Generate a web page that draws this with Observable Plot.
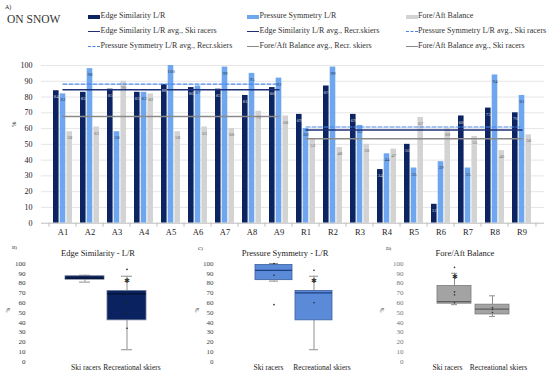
<!DOCTYPE html>
<html><head><meta charset="utf-8">
<script src="https://cdn.jsdelivr.net/npm/d3@7"></script>
<script src="https://cdn.jsdelivr.net/npm/@observablehq/plot@0.6"></script>
<style>
body{margin:0;background:#fff;}
#root{position:relative;width:550px;height:376px;overflow:hidden;font-family:"Liberation Serif","Times New Roman","DejaVu Serif",serif;color:#222;}
.abs{position:absolute;white-space:nowrap;line-height:1;}
.ctr{transform:translateX(-50%);}
.plot{position:absolute;}
</style></head><body><div id="root"></div>
<script>
// ---------- data ----------
const categories = ["A1","A2","A3","A4","A5","A6","A7","A8","A9","R1","R2","R3","R4","R5","R6","R7","R8","R9"];
const edgeSimilarity   = [84,83,85,83,88,86,85,81,86,69,87,69,34,50,12,68,73,70];
const pressureSymmetry = [82,98,58,83,100,87,99,95,92,60,99,62,44,35,39,35,94,81];
const foreAftBalance   = [58,61,90,82,58,61,60,71,68,53,48,50,47,67,60,55,46,56];
const groupSpans = [["A1","A9"],["R1","R9"]];   // ski racers, recreational skiers
const edgeAvg = [84.6, 59.1];
const pressureAvg = [88.2, 61.0];
const foreAftAvg = [67.7, 53.6];
const yTicks = [0,10,20,30,40,50,60,70,80,90,100];
const boxGroups = ["Ski racers","Recreational skiers"];
// [low whisker, Q1, median, Q3, high whisker]
const edgeBox     = [[81,83.5,85,87,88],[12,42,69,72,87]];
const pressureBox = [[82,83,93,98.5,100],[12,42,70,72,87]];
const foreAftBox  = [[58,59,61,77,90],[46,48,53.5,58,67]];
// individual markers [group index, value]
const edgePoints     = [[0,85],[1,34],[1,50],[1,60],[1,69],[1,94]];
const pressurePoints = [[0,88],[0,58],[0,100],[1,60],[1,93]];
const foreAftPoints  = [[0,60],[0,68],[0,71],[0,96],[1,50],[1,53],[1,55]];
const edgeSig = [[1,82]], pressureSig = [[1,82]], foreAftSig = [[0,86]];

// ---------- page ----------
const FONT = '"Liberation Serif","Times New Roman","DejaVu Serif",serif';
const root = document.getElementById("root");
function label(txt, x, y, size, extra="", cls="abs"){
  const d = document.createElement("div");
  d.className = cls; d.textContent = txt;
  d.style.cssText = `left:${x}px;top:${y}px;font-size:${size}px;${extra}`;
  root.appendChild(d); return d;
}
function place(svg, left, top){ svg.classList.add("plot"); svg.style.left = left+"px"; svg.style.top = top+"px"; root.appendChild(svg); }

label("A)", 5, 4, 6);
label("ON SNOW", 7, 14, 11.5, "color:#333;");

const NAVY = "#0d2462", LBLUE = "#6ea6ef", LGRAY = "#d3d3d3";
const legendItems = [
  ["Edge Similarity L/R","bar",NAVY],["Pressure Symmetry L/R","bar",LBLUE],["Fore/Aft Balance","bar",LGRAY],
  ["Edge Similarity L/R avg., Ski racers","line","#1c2f78"],["Edge Similarity L/R avg., Recr.skiers","line","#1c2f78"],["Pressure Symmetry L/R avg., Ski racers","dash","#4a86e8"],
  ["Pressure Symmetry L/R avg., Recr.skiers","dash","#4a86e8"],["Fore/Aft Balance avg., Recr. skiers","line","#8a8a8a"],["Fore/Aft Balance avg., Ski racers","line","#8a8a8a"]
];
const colX = [88, 247, 405.5], rowY = [16.5, 31.5, 46.5];
legendItems.forEach(([t,kind,c],i)=>{
  const x = colX[i%3], y = rowY[Math.floor(i/3)];
  const s = document.createElement("div"); s.className="abs";
  if (kind==="bar") s.style.cssText = `left:${x}px;top:${y-2}px;width:12px;height:4px;background:${c};`;
  else if (kind==="line") s.style.cssText = `left:${x}px;top:${y-0.75}px;width:12px;height:0;border-top:1.5px solid ${c};`;
  else s.style.cssText = `left:${x}px;top:${y-0.75}px;width:12px;height:0;border-top:1.5px dashed ${c};`;
  root.appendChild(s);
  label(t, x+12.5, y-4.5, 8, "color:#333;");
});

// ---------- top chart ----------
const rows = categories.map((c,i)=>({cat:c, edge:edgeSimilarity[i], pressure:pressureSymmetry[i], fore:foreAftBalance[i]}));
const avgRows = [];
groupSpans.forEach((span,g)=>span.forEach(c=>avgRows.push({cat:c, g, edge:edgeAvg[g], pressure:pressureAvg[g], fore:foreAftAvg[g]})));
const mL = 41, mR = 6, W = 550;
const step = (W-mL-mR)/categories.length;
const bw = step*0.72, third = bw/3;

const topChart = Plot.plot({
  width: W, height: 190, marginTop: 10, marginBottom: 22.3, marginLeft: mL, marginRight: mR,
  style: {fontFamily: FONT, background: "transparent", color: "#333", overflow: "visible"},
  x: {domain: categories, paddingInner: 0.28, paddingOuter: 0.14},
  y: {domain: [0,100]},
  marks: [
    Plot.ruleY(yTicks.slice(1), {stroke: "#e6e6e6"}),
    Plot.barY(rows, {x: "cat", y: "edge", fill: NAVY, insetRight: 2*third}),
    Plot.barY(rows, {x: "cat", y: "pressure", fill: LBLUE, insetLeft: third, insetRight: third}),
    Plot.barY(rows, {x: "cat", y: "fore", fill: LGRAY, insetLeft: 2*third}),
    Plot.ruleY([0], {stroke: "#bdbdbd"}),
    Plot.ruleX(categories, {x: d=>d, dx: -step/2, y1: 0, y2: -2.5, stroke: "#bdbdbd"}),
    Plot.ruleX(categories.slice(-1), {x: d=>d, dx: step/2, y1: 0, y2: -2.5, stroke: "#bdbdbd"}),
    Plot.lineY(avgRows, {x: "cat", y: "fore", z: "g", stroke: "#8a8a8a", strokeWidth: 1.5}),
    Plot.lineY(avgRows, {x: "cat", y: "edge", z: "g", stroke: "#1c2f78", strokeWidth: 1.5}),
    Plot.lineY(avgRows, {x: "cat", y: "pressure", z: "g", stroke: "#4a86e8", strokeWidth: 1.2, strokeDasharray: "4,2"}),
    Plot.text(rows, {x: "cat", y: "edge", text: "edge", dx: -third, dy: 6, fontSize: 5, fill: "#d9d9d9"}),
    Plot.text(rows, {x: "cat", y: "pressure", text: "pressure", dx: 0, dy: 6, fontSize: 5, fill: "#2b3a55"}),
    Plot.text(rows, {x: "cat", y: "fore", text: "fore", dx: third, dy: 6, fontSize: 5, fill: "#6a6a6a"}),
    Plot.axisX({tickSize: 0, tickPadding: 6, fontSize: 8.5, label: null, fill: "#222"}),
    Plot.axisY({ticks: yTicks, tickSize: 0, tickPadding: 9, fontSize: 8, label: null, fill: "#222"}),
    Plot.text([61], {y: d=>d, frameAnchor: "left", dx: -28, text: ()=>"%", rotate: -90, fontSize: 6.5, fill: "#333"})
  ]
});
place(topChart, 0, 55);

// ---------- box plot panels ----------
function boxPanel(o){
  const stats = o.box.map((s,i)=>({g: boxGroups[i], lo: s[0], q1: s[1], med: s[2], q3: s[3], hi: s[4]}));
  const pts = o.points.map(([i,v])=>({g: boxGroups[i], v}));
  const sig = o.sig.map(([i,v])=>({g: boxGroups[i], v}));
  const capInset = 14;
  return Plot.plot({
    width: o.width, height: 131, marginTop: 18, marginBottom: 15, marginLeft: o.mL, marginRight: o.width - o.mL - o.span,
    style: {fontFamily: FONT, background: "transparent", overflow: "visible"},
    x: {domain: boxGroups, paddingInner: o.pin, paddingOuter: 0.1, axis: null},
    y: {domain: [0,100]},
    marks: [
      Plot.ruleX(stats, {x: "g", y1: "lo", y2: "q1", stroke: "#8f8f8f"}),
      Plot.ruleX(stats, {x: "g", y1: "q3", y2: "hi", stroke: "#8f8f8f"}),
      Plot.tickY(stats, {x: "g", y: "lo", stroke: "#8f8f8f", insetLeft: capInset, insetRight: capInset}),
      Plot.tickY(stats, {x: "g", y: "hi", stroke: "#8f8f8f", insetLeft: capInset, insetRight: capInset}),
      Plot.barY(stats, {x: "g", y1: "q1", y2: "q3", fill: o.fill, stroke: o.stroke, strokeWidth: 0.8}),
      Plot.tickY(stats, {x: "g", y: "med", stroke: o.med, strokeWidth: 1.2}),
      Plot.dot(pts, {x: "g", y: "v", r: 0.8, fill: o.dot}),
      Plot.text(sig, {x: "g", y: "v", text: ()=>"✱", fontSize: 7, fill: "#333"}),
      Plot.text(boxGroups.slice(0,1), {x: d=>d, frameAnchor: "bottom", dy: 8, dx: o.ldx[0], fontSize: 7.5, fill: "#222"}),
      Plot.text(boxGroups.slice(1), {x: d=>d, frameAnchor: "bottom", dy: 8, dx: o.ldx[1], fontSize: 7.5, fill: "#222"}),
      Plot.axisY({ticks: yTicks, tickSize: 0, tickPadding: o.tp, fontSize: 7, label: null, fill: o.tickColor}),
      Plot.text([50], {y: d=>d, frameAnchor: "left", dx: o.pctDx, text: ()=>"%", rotate: -90, fontSize: 5.5, fill: "#444"})
    ]
  });
}
place(boxPanel({width: 180, mL: 60, span: 91, pin: 0.07, tp: 35, pctDx: -52, ldx: [1,5], box: edgeBox, points: edgePoints, sig: edgeSig,
  fill: "#0b2260", stroke: "#6d7892", med: "#05112e", dot: "#222", tickColor: "#333"}), 0, 245);
place(boxPanel({width: 180, mL: 71, span: 86, pin: 0.07, tp: 38, pctDx: -54, ldx: [-5.5,8], box: pressureBox, points: pressurePoints, sig: pressureSig,
  fill: "#5b8bd8", stroke: "#3a5f9f", med: "#1f3f80", dot: "#222", tickColor: "#444"}), 180, 245);
place(boxPanel({width: 190, mL: 73, span: 80, pin: 0.1, tp: 30, pctDx: -51, ldx: [-7,6], box: foreAftBox, points: foreAftPoints, sig: foreAftSig,
  fill: "#a3a3a3", stroke: "#7a7a7a", med: "#5f5f5f", dot: "#333", tickColor: "#777"}), 360, 245);

label("B)", 12, 245, 5);
label("C)", 198, 246, 5);
label("D)", 386, 246, 5);
label("Edge Similarity - L/R", 98, 248.5, 8.5, "", "abs ctr");
label("Pressure Symmetry - L/R", 285, 248.5, 8.5, "", "abs ctr");
label("Fore/Aft Balance", 465, 248.5, 8.5, "", "abs ctr");
</script></body></html>
